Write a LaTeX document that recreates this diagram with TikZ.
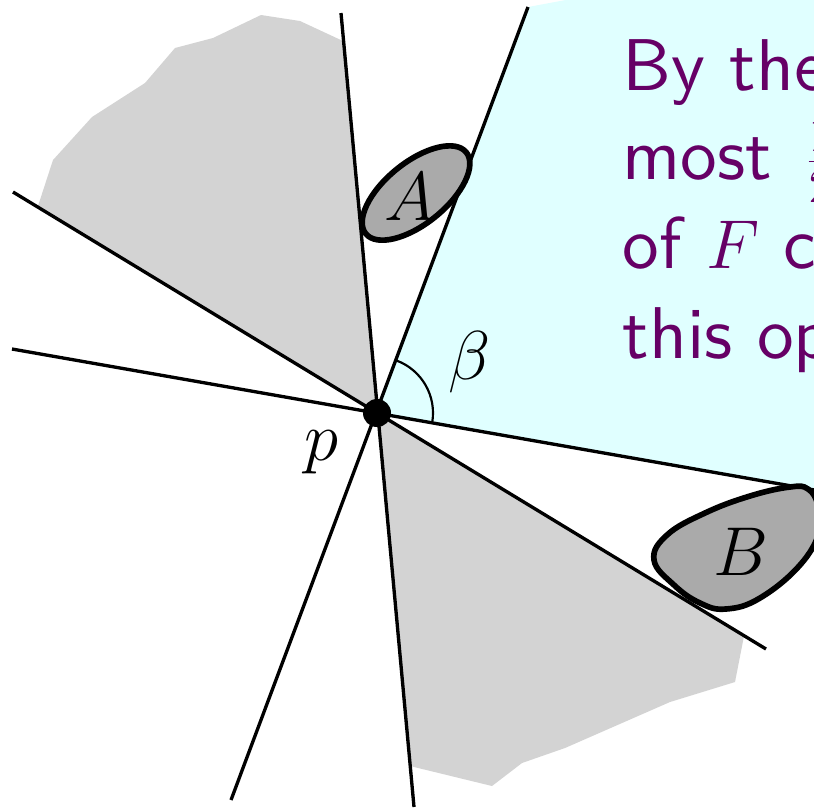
\documentclass[tikz,border=0pt]{standalone}
\usepackage{xcolor}
\usepackage{fontspec}
\setsansfont{lmsans10-regular.otf}
\definecolor{wedgecyan}{RGB}{224,255,255}
\definecolor{regiongray}{RGB}{211,211,211}
\definecolor{blobgray}{RGB}{170,170,170}
\definecolor{txtpurple}{RGB}{102,0,102}
\usetikzlibrary{calc}

\begin{document}
\begin{tikzpicture}[x=0.3pt, y=-0.3pt,
  ray/.style={line width=1pt, black},
  blob/.style={line width=1.7pt, draw=black, fill=blobgray},
  lbl/.style={font=\fontsize{22}{26.8}\selectfont, inner sep=0pt},
  slide/.style={font=\fontsize{22}{26.8}\selectfont\sffamily, text=txtpurple, inner sep=0pt, anchor=base west}]
  \useasboundingbox (0,0) rectangle (814,808);
  \clip (0,0) rectangle (814,808);

  %--- point p and the ends of the four lines ---
  \coordinate (p) at (377,413);
  \coordinate (l1s) at (341,13);  \coordinate (l1e) at (414,807);
  \coordinate (l2s) at (528,7);   \coordinate (l2e) at (231,800);
  \coordinate (l3s) at (13,192);  \coordinate (l3e) at (766,649);
  \coordinate (l4s) at (12,349);  \coordinate (l4e) at (860,498);

  %--- cyan wedge ---
  \fill[wedgecyan] (p) -- (l2s) -- (700,-25) -- (900,-40) -- (900,505) -- cycle;

  %--- gray regions ---
  \fill[regiongray] (p) -- (38,206) -- (53,160) -- (92,117) -- (145,83) -- (175,48) -- (213,38)
    -- (261,15) -- (300,21) -- (343,41) -- cycle;
  \fill[regiongray] (p) -- (410,766) -- (492,786) -- (522,763) -- (565,748) -- (670,702)
    -- (735,682) -- (744,636) -- cycle;

  %--- lines through p ---
  \draw[ray] (l1s) -- (l1e);
  \draw[ray] (l2s) -- (l2e);
  \draw[ray] (l3s) -- (l3e);
  \draw[ray] (l4s) -- (l4e);

  % angle
  \draw[line width=0.65pt] ([shift={(-10:16.8pt)}]p) arc[start angle=-10, end angle=69.6, radius=16.8pt];
  \node[lbl] (labbeta) at (470,362) {$\beta$};

  %--- blobs ---
  \draw[blob, rotate around={39:(416,193)}] (416,193) ellipse [x radius=19.4pt, y radius=9.2pt];
  \node[lbl] (labA) at (410,197) {$A$};

  \draw[blob] plot[smooth cycle, tension=0.7] coordinates {(654,560) (667,535) (705,513) (750,496)
    (790,487) (808,489) (818,505) (820,530) (800,565) (760,598) (726,609) (700,603) (674,585)};
  \node[lbl] (labB) at (741,552) {$B$};

  % point p
  \node[circle, fill=black, inner sep=0pt, minimum size=8.4pt] (dot) at (p) {};
  \node[lbl] (labp) at (321,452) {$p$};

  %--- text on the right ---
  \node[slide] (t1) at (622,90) {By the};
  \node[slide] (t2) at (622,179) {most \hspace{2.4pt}$\frac{1}{2}$};
  \node[slide] (t3) at (622,268) {of $F$ c};
  \node[slide] (t4) at (622,358) {this op};
\end{tikzpicture}
\end{document}
